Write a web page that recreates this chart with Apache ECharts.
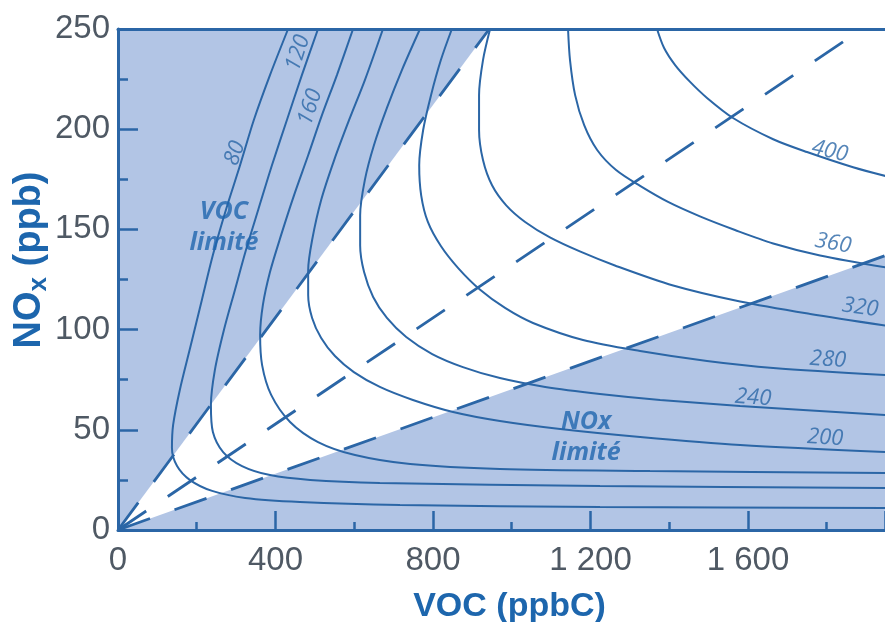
<!DOCTYPE html>
<html><head><meta charset="utf-8">
<script src="https://cdn.jsdelivr.net/npm/echarts@6/dist/echarts.min.js"></script>
<style>html,body{margin:0;padding:0;background:#fff}#c{width:885px;height:622px}</style>
</head><body><div id="c"></div>
<script>
// ---- data (VOC ppbC, NOx ppb) ----
const xTickValues = [0, 400, 800, 1200, 1600];
const xVisibleMax = 1948;
const yTickValues = [0, 50, 100, 150, 200, 250];
const levels = [80, 120, 160, 200, 240, 280, 320, 360, 400];

const iso80  = [[432,250],[386,227],[345,204.6],[310,182],[274,159.7],[241,137.2],[213,114.8],[185,92.3],[157,69.9],[140,52.4],[137,40.9],[150,31.9],[183,24.9],[239,19.5],[323,16],[462,14],[716,12.5],[1224,11.5],[1950,11]];
const iso120 = [[508,250],[467,227],[429,204.6],[391,182],[356,159.7],[325,139.7],[297,119.8],[269,99.8],[246,79.8],[236,62.4],[241,48.9],[267,38.9],[315,31.9],[386,27.4],[488,25],[665,23.5],[1224,22],[1950,21]];
const iso160 = [[597,250],[556,227],[518,207],[483,187],[447,167],[414,147],[386,128.7],[368,112.3],[361,97.3],[366,82.3],[389,67.4],[437,53.9],[508,43.9],[602,37.4],[742,32.9],[970,30.4],[1351,29.4],[1950,28.4]];
const iso200 = [[673,250],[627,224.5],[587,204.6],[549,184.6],[516,164.7],[493,144.7],[483,129.7],[483,117.3],[493,105.8],[516,95.8],[551,86.8],[599,78.8],[665,71.4],[749,64.9],[851,58.9],[970,54.4],[1123,50.4],[1326,46.4],[1580,42.4],[1950,38.9]];
const iso240 = [[767,250],[721,229.5],[683,210.6],[650,192],[627,174.7],[615,157],[615,142],[625,128.7],[648,116.3],[683,105.8],[732,96.3],[798,87.8],[876,81.3],[970,75.8],[1085,71.4],[1224,67.9],[1377,64.9],[1580,61.9],[1950,57.4]];
const iso280 = [[848,250],[820,234.5],[795,217],[775,199.6],[765,182],[770,167],[787,153.7],[820,141.7],[864,130.7],[919,120],[983,110.8],[1054,103.3],[1181,94.8],[1326,89.3],[1496,84.3],[1664,80.8],[1950,77.3]];
const iso320 = [[945,250],[927,234.5],[917,217],[917,199.6],[927,184.6],[950,172],[986,162],[1034,153.7],[1097,146],[1173,139],[1262,132],[1410,122],[1580,114],[1758,107.8],[1950,102]];
const iso360 = [[1143,250],[1148,234.5],[1161,217],[1184,202],[1217,189.6],[1265,179.6],[1326,171.7],[1397,163.7],[1478,156.5],[1567,149.7],[1664,143],[1783,137],[1950,131]];
const iso400 = [[1369,250],[1387,240.5],[1415,232],[1453,223.6],[1496,215.6],[1562,205.6],[1664,195],[1750,188.6],[1867,181],[1950,176.6]];

const vocLimitedEdge = [[0,0],[943,250]];
const medianRatioLine = [[0,0],[1890,250]];
const noxLimitedEdge = [[0,0],[1950,137]];

const curveLabelText = ['80','120','160','200','240','280','320','360','400'];
const curveLabelAt = [[297,188],[457,238],[488,211],[1796,46],[1613,66],[1803,85],[1885,111],[1816,143],[1808,189]];
const regionLabelText = ['VOC\nlimité', 'NOx\nlimité'];
const regionLabelAt = [[269,151],[1189,46]];

// ---- styles ----
const BLUE = '#2b66a6';
const SHADE = '#b2c5e5';
const GREY = '#4f5964';
const TITLE = '#1d66ad';
const curveLabelRot = [70,72,72,-3,-4,-4,-8,-10,-13];

const isoSets = [iso80, iso120, iso160, iso200, iso240, iso280, iso320, iso360, iso400];

const fmt = v => {
  if (xTickValues.indexOf(v) < 0) return '';
  return v >= 1000 ? Math.floor(v/1000) + ' ' + String(v % 1000).padStart(3,'0') : String(v);
};

const series = [];
series.push({type:'line', data: vocLimitedEdge, symbol:'none', lineStyle:{width:0}, areaStyle:{color:SHADE, opacity:1, origin:'end'}, z:1, silent:true});
series.push({type:'line', data: noxLimitedEdge, symbol:'none', lineStyle:{width:0}, areaStyle:{color:SHADE, opacity:1, origin:'start'}, z:1, silent:true});
[vocLimitedEdge, medianRatioLine, noxLimitedEdge].forEach(d => series.push({
  type:'line', data:d, symbol:'none', z:3,
  lineStyle:{color:BLUE, width:2.8, type:[34,26]}
}));
isoSets.forEach((d,i) => series.push({
  type:'line', name: String(levels[i]), data:d, symbol:'none', smooth:0.3, z:4,
  lineStyle:{color:BLUE, width:2}
}));
series.push({
  type:'scatter', symbolSize:0, z:6,
  data: curveLabelText.map((t,i) => ({value: curveLabelAt[i], name:t, label:{rotate: curveLabelRot[i]}})),
  label:{show:true, position:'inside', formatter: p => p.name, color:BLUE, fontFamily:'Open Sans', fontStyle:'italic', fontSize:22}
});
series.push({
  type:'scatter', symbolSize:0, z:6,
  data: regionLabelText.map((t,i) => ({value: regionLabelAt[i], name:t})),
  label:{show:true, position:'inside', formatter: p => p.name, color:'#1f65ae', fontFamily:'Open Sans', fontStyle:'italic', fontWeight:'bold', fontSize:25, lineHeight:31}
});

const chart = echarts.init(document.getElementById('c'), null, {renderer:'canvas'});
chart.setOption({
  animation:false,
  backgroundColor:'#ffffff',
  grid:{left:118, top:29, right:0, height:501, containLabel:false, outerBoundsMode:'none'},
  xAxis:[{
    type:'value', min:0, max:xVisibleMax, interval:400, z:10,
    axisLine:{show:true, lineStyle:{color:BLUE, width:3}},
    axisTick:{show:true, inside:true, length:19, lineStyle:{color:BLUE, width:2.5}},
    minorTick:{show:true, splitNumber:2, length:8, lineStyle:{color:BLUE, width:2.5}},
    splitLine:{show:false},
    axisLabel:{color:GREY, fontSize:33, fontFamily:'Liberation Sans', margin:14, showMaxLabel:false, formatter:fmt},
    name:'VOC (ppbC)', nameLocation:'middle', nameGap:60,
    nameTextStyle:{color:TITLE, fontSize:34, fontWeight:'bold', fontFamily:'Liberation Sans', padding:[0,0,0,16]}
  },{
    type:'value', position:'top', min:0, max:xVisibleMax, z:10,
    axisLine:{show:true, lineStyle:{color:BLUE, width:3}},
    axisTick:{show:false}, axisLabel:{show:false}, splitLine:{show:false}
  }],
  yAxis:{
    type:'value', min:yTickValues[0], max:yTickValues[yTickValues.length-1], interval:50, z:10,
    axisLine:{show:true, lineStyle:{color:BLUE, width:3}},
    axisTick:{show:true, inside:true, length:20, lineStyle:{color:BLUE, width:2.5}},
    minorTick:{show:true, splitNumber:2, length:10, lineStyle:{color:BLUE, width:2.5}},
    splitLine:{show:false},
    axisLabel:{color:GREY, fontSize:33, fontFamily:'Liberation Sans', margin:8}
  },
  graphic:[{
    type:'text', x:30, y:260, rotation:Math.PI/2, z:20,
    style:{
      text:'{a|NO}{b|x}{a| (ppb)}', align:'center', verticalAlign:'middle',
      rich:{
        a:{fontSize:38, fontWeight:'bold', fontFamily:'Liberation Sans', fill:TITLE, lineHeight:44, verticalAlign:'middle'},
        b:{fontSize:26, fontWeight:'bold', fontFamily:'Liberation Sans', fill:TITLE, lineHeight:44, verticalAlign:'bottom'}
      }
    }
  }],
  series: series
});
</script></body></html>
